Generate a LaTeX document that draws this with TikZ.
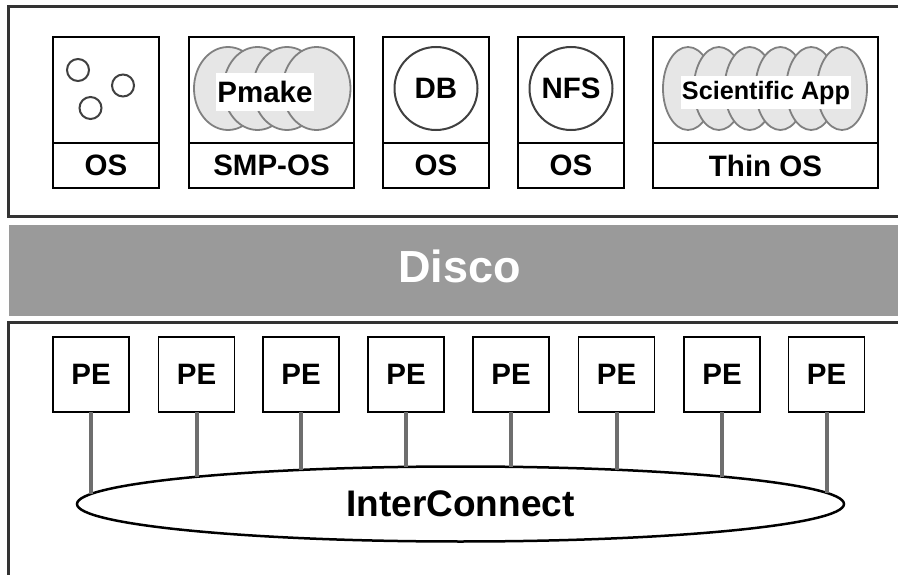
\documentclass[tikz,border=0pt]{standalone}
\usepackage{fontspec}
\setmainfont{Liberation Sans}
\usetikzlibrary{shapes.geometric,calc}
\definecolor{panelc}{HTML}{333333}
\definecolor{discog}{HTML}{9A9A9A}
\definecolor{cellfill}{HTML}{E6E6E6}
\definecolor{cellline}{HTML}{808080}
\definecolor{circline}{HTML}{404040}
\definecolor{linkc}{HTML}{6E6E6E}
\begin{document}
\begin{tikzpicture}[x=1pt,y=-1pt,
  panel/.style={draw=panelc, line width=3},
  lbl/.style={font=\fontsize{29.5}{32}\selectfont\bfseries, inner sep=0, outer sep=0},
  appbox/.style={draw=black, line width=2.2, inner sep=0, outer sep=0, minimum height=106},
  osbox/.style={lbl, draw=black, line width=2.2, minimum height=45},
  smallc/.style={circle, draw=circline, line width=2, minimum size=22, inner sep=0},
  bigc/.style={lbl, circle, draw=circline, line width=2, minimum size=83},
  cell/.style={ellipse, draw=cellline, fill=cellfill, line width=1.8, minimum height=83, inner sep=0},
  whitelbl/.style={lbl, fill=white},
  pebox/.style={lbl, draw=black, line width=1.5, minimum width=76, minimum height=75},
  link/.style={draw=linkc, line width=4}
]
\useasboundingbox (0,0) rectangle (898,575);
% panels
\draw[panel] (898,7) -- (8.5,7) -- (8.5,216.5) -- (898,216.5);
\draw[panel] (898,322.5) -- (8.5,322.5) -- (8.5,575);
\node[fill=discog, minimum width=889, minimum height=91, inner sep=0, outer sep=0] (band) at (453.5,270.5) {};
\node[text=white, font=\fontsize{45}{48}\selectfont\bfseries, anchor=base, inner sep=0] (disco) at (459.5,282) {Disco};
% box 1
\node[appbox, minimum width=106] (b1) at (106,90) {};
\node[osbox, minimum width=106] (o1) at (106,165.5) {OS};
\node[smallc] (c1) at (78,70) {};
\node[smallc] (c2) at (123,85.5) {};
\node[smallc] (c3) at (90.5,108) {};
% box 2
\node[appbox, minimum width=165] (b2) at (271.5,90) {};
\node[osbox, minimum width=165] (o2) at (271.5,165.5) {SMP-OS};
\foreach \i/\x in {1/228,2/257.5,3/287,4/316.5}
  \node[cell, minimum width=68] (pc\i) at (\x,88.5) {};
\node[whitelbl, minimum width=98, minimum height=38] (pm) at (265,92) {Pmake};
% box 3
\node[appbox, minimum width=106] (b3) at (436,90) {};
\node[osbox, minimum width=106] (o3) at (436,165.5) {OS};
\node[bigc] (db) at (436,88.5) {DB};
% box 4
\node[appbox, minimum width=106] (b4) at (571,90) {};
\node[osbox, minimum width=106] (o4) at (571,165.5) {OS};
\node[bigc] (nfs) at (571,88.5) {NFS};
% box 5
\node[appbox, minimum width=225] (b5) at (765.5,90) {};
\node[osbox, minimum width=225] (o5) at (765.5,165.5) {Thin OS};
\foreach \i in {0,...,5}
  \node[cell, minimum width=50] (sc\i) at (688+30.8*\i,88.5) {};
\node[whitelbl, font=\fontsize{25.2}{28}\selectfont\bfseries, minimum width=170, minimum height=33] (sa) at (766,92.5) {Scientific App};
% interconnect
\node[lbl, ellipse, draw=black, line width=2.5, minimum width=767, minimum height=75, font=\fontsize{37}{40}\selectfont\bfseries] (ic) at (460.5,504) {InterConnect};
\foreach \i/\x/\dx/\dy in {1/91/-369.5/10.04, 2/196.5/-264/27.2, 3/301/-159.5/34.1, 4/406/-54.5/37.12, 5/511/50.5/37.17, 6/616.5/156/34.26, 7/722/261.5/27.43, 8/826.5/366/11.19} {
  \node[pebox] (pe\i) at (\x,374.5) {PE};
  \draw[link] (pe\i.south) -- ($(ic.center)+(\dx,-\dy)$);
}
\end{tikzpicture}
\end{document}
